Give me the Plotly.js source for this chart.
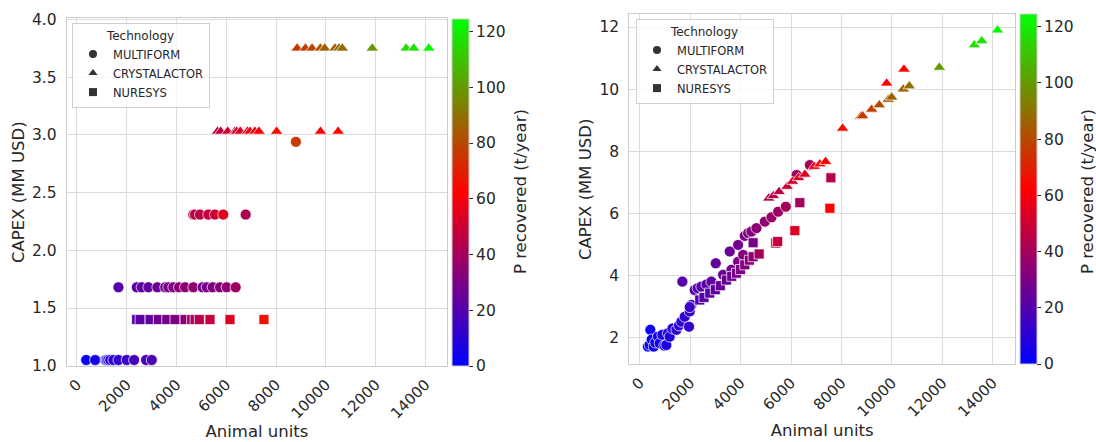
<!DOCTYPE html>
<html>
<head>
<meta charset="utf-8">
<script src="https://cdn.plot.ly/plotly-3.0.1.min.js"></script>
<style>html,body{margin:0;padding:0;background:#fff;}#chart{width:1096px;height:442px;}</style>
</head>
<body>
<div id="chart"></div>
<script>
// ---------- Left panel (discrete CAPEX) ----------
const leftMultiX = [373, 734, 1150, 1203, 1260, 1336, 1468, 1669, 2000, 2298, 2780, 3008,
  1669, 2407, 2600, 2872, 3233, 3550, 3674, 3875, 4100, 4344, 4677, 5050, 5215, 5455, 5748, 6017, 6378,
  4677, 4745, 4945, 5279, 5547, 5880, 6779,
  8797];
const leftMultiY = [1.05, 1.05, 1.05, 1.05, 1.05, 1.05, 1.05, 1.05, 1.05, 1.05, 1.05, 1.05,
  1.68, 1.68, 1.68, 1.68, 1.68, 1.68, 1.68, 1.68, 1.68, 1.68, 1.68, 1.68, 1.68, 1.68, 1.68, 1.68, 1.68,
  2.31, 2.31, 2.31, 2.31, 2.31, 2.31, 2.31,
  2.94];
const leftMultiP = [2, 4, 7, 8, 8, 9, 10, 12, 14, 16, 18, 19,
  21, 21, 23, 24, 26, 28, 29, 31, 33, 34, 36, 27, 29, 31, 33, 35, 39,
  45, 45, 45, 48, 50, 55, 42,
  77];

const leftCrystX = [5650, 5776, 6057, 6350, 6418, 6563, 6850, 6952, 7152, 7313, 8022, 9787, 10493,
  8847, 9180, 9447, 9780, 9954, 10368, 10528, 10662, 11864, 13226, 13533, 14134];
const leftCrystY = [3.03, 3.03, 3.03, 3.03, 3.03, 3.03, 3.03, 3.03, 3.03, 3.03, 3.03, 3.03, 3.03,
  3.75, 3.75, 3.75, 3.75, 3.75, 3.75, 3.75, 3.75, 3.75, 3.75, 3.75, 3.75];
const leftCrystP = [44, 47, 50, 51, 52, 54, 56, 57, 59, 60, 65, 62, 63,
  76, 77, 79, 83, 85, 86, 88, 89, 100, 116, 118, 124];

const leftNuresX = [2400, 2539, 2940, 3273, 3610, 3942, 4344, 4613, 4750, 4918, 5347, 6150, 7514];
const leftNuresY = [1.4, 1.4, 1.4, 1.4, 1.4, 1.4, 1.4, 1.4, 1.4, 1.4, 1.4, 1.4, 1.4];
const leftNuresP = [21, 22, 24, 27, 29, 31, 34, 37, 42, 44, 48, 54, 66];

// ---------- Right panel (continuous CAPEX) ----------
const rightMultiX = [330, 397, 425, 480, 560, 620, 727, 794, 900, 980, 1059, 1120, 1191, 1300, 1456, 1560, 1654, 1786, 1958, 1985, 2052, 1985,
  1693,
  2183, 2300, 2448, 2650, 2845, 3017, 3308, 3638, 3903, 4102,
  3572, 3903, 4168, 4301, 4434, 4631, 4962, 5227, 5490, 5795, 6220, 6748];
const rightMultiY = [1.72, 1.78, 2.26, 1.95, 1.72, 1.85, 2.04, 1.83, 2.1, 1.75, 1.77, 2.15, 2.04, 2.3, 2.26, 2.4, 2.52, 2.68, 2.36, 2.85, 3.06, 2.99,
  3.81,
  3.54, 3.6, 3.65, 3.72, 3.81, 4.40, 4.03, 4.19, 4.45, 4.67,
  4.78, 4.99, 5.28, 5.37, 5.42, 5.53, 5.74, 5.88, 6.06, 6.22, 7.24, 7.56];
const rightMultiP = [2, 2, 3, 3, 3, 4, 5, 5, 6, 6, 7, 7, 8, 9, 10, 10, 11, 12, 12, 13, 14, 14,
  21,
  19, 20, 21, 22, 23, 24, 26, 28, 30, 32,
  26, 28, 30, 31, 32, 34, 35, 37, 38, 40, 38, 40];

const rightCrystX = [5120, 5300, 5529, 5847, 6061, 6300, 6550, 6919, 7145, 7371,
  8046, 8761, 8840, 9197, 9500, 9791, 9857, 9991, 10452, 10479, 10690, 11881, 13270, 13562, 14184];
const rightCrystY = [6.49, 6.57, 6.70, 6.87, 7.03, 7.15, 7.26, 7.51, 7.59, 7.67,
  8.74, 9.12, 9.14, 9.35, 9.49, 10.19, 9.67, 9.74, 10.0, 10.64, 10.10, 10.70, 11.42, 11.55, 11.90];
const rightCrystP = [43, 45, 47, 49, 51, 53, 55, 58, 60, 62,
  65, 77, 76, 78, 80, 62, 83, 85, 87, 63, 89, 100, 116, 118, 124];

const rightNuresX = [2382, 2550, 2779, 3000, 3200, 3440, 3650, 3838, 4000, 4168, 4350, 4498, 4737, 4498, 5398, 5470, 6153, 6351, 7542, 7581];
const rightNuresY = [3.22, 3.3, 3.44, 3.55, 3.68, 3.86, 3.98, 4.08, 4.2, 4.35, 4.5, 4.61, 4.70, 5.06, 5.05, 5.1, 5.45, 6.35, 6.17, 7.15];
const rightNuresP = [20, 21, 22, 23, 25, 26, 27, 29, 30, 31, 33, 34, 40, 29, 47, 48, 54, 40, 62, 44];

const techNames = ['MULTIFORM', 'CRYSTALACTOR', 'NURESYS'];
const techSymbols = ['circle', 'triangle-up', 'square'];
const xTicks = [0, 2000, 4000, 6000, 8000, 10000, 12000, 14000];
const leftYTicks = [1.0, 1.5, 2.0, 2.5, 3.0, 3.5, 4.0];
const rightYTicks = [2, 4, 6, 8, 10, 12];
const cbTicks = [0, 20, 40, 60, 80, 100, 120];
const cbTitle = 'P recovered (t/year)';

const txt = '#262626';
const font = 'DejaVu Sans, sans-serif';
const sizes = {circle: 11, 'triangle-up': 11, square: 10};

function scatterTrace(x, y, p, sym, xa, ya, cax) {
  return {
    type: 'scatter', mode: 'markers', x: x, y: y, xaxis: xa, yaxis: ya,
    showlegend: false, hoverinfo: 'skip',
    marker: {symbol: sym, size: sizes[sym], color: p, coloraxis: cax,
      line: {color: 'rgba(255,255,255,0.9)', width: 0.8}}
  };
}
function legendTrace(i, xa, ya, lg) {
  return {
    type: 'scatter', mode: 'markers', x: [null], y: [null], xaxis: xa, yaxis: ya,
    name: techNames[i], legend: lg, showlegend: true,
    marker: {symbol: techSymbols[i], size: 8, color: '#333333', line: {width: 0}}
  };
}

const data = [
  scatterTrace(leftMultiX, leftMultiY, leftMultiP, 'circle', 'x', 'y', 'coloraxis'),
  scatterTrace(leftNuresX, leftNuresY, leftNuresP, 'square', 'x', 'y', 'coloraxis'),
  scatterTrace(leftCrystX, leftCrystY, leftCrystP, 'triangle-up', 'x', 'y', 'coloraxis'),
  scatterTrace(rightMultiX, rightMultiY, rightMultiP, 'circle', 'x2', 'y2', 'coloraxis2'),
  scatterTrace(rightNuresX, rightNuresY, rightNuresP, 'square', 'x2', 'y2', 'coloraxis2'),
  scatterTrace(rightCrystX, rightCrystY, rightCrystP, 'triangle-up', 'x2', 'y2', 'coloraxis2'),
  legendTrace(0, 'x', 'y', 'legend'), legendTrace(1, 'x', 'y', 'legend'), legendTrace(2, 'x', 'y', 'legend'),
  legendTrace(0, 'x2', 'y2', 'legend2'), legendTrace(1, 'x2', 'y2', 'legend2'), legendTrace(2, 'x2', 'y2', 'legend2')
];

const W = 1096, H = 442;
const cscale = [[0, 'rgb(0,0,255)'], [0.5, 'rgb(255,0,0)'], [1, 'rgb(0,255,0)']];

function xAxis(domain, anchor) {
  return {
    domain: domain, anchor: anchor, range: [-410, 14880],
    tickvals: xTicks, ticktext: xTicks.map(String), tickangle: -45,
    showgrid: true, gridcolor: '#dcdcdc', gridwidth: 1,
    zeroline: false, showline: true, mirror: true, linecolor: '#cccccc', linewidth: 1,
    ticks: 'outside', ticklen: 3, tickcolor: 'rgba(0,0,0,0)',
    tickfont: {family: font, size: 15, color: txt},
    title: {text: 'Animal units', font: {family: font, size: 16.5, color: txt}, standoff: 4}
  };
}
function yAxis(domain, anchor, range, ticks, fmt) {
  return {
    domain: domain, anchor: anchor, range: range,
    tickvals: ticks, ticktext: ticks.map(v => fmt ? v.toFixed(1) : String(v)),
    showgrid: true, gridcolor: '#dcdcdc', gridwidth: 1,
    zeroline: false, showline: true, mirror: true, linecolor: '#cccccc', linewidth: 1,
    ticks: 'outside', ticklen: 6, tickcolor: 'rgba(0,0,0,0)',
    tickfont: {family: font, size: 15.5, color: txt},
    title: {text: 'CAPEX (MM USD)', font: {family: font, size: 16.5, color: txt}, standoff: 3}
  };
}
function colorAx(x, y0px, y1px) {
  return {
    colorscale: cscale, cmin: 0, cmax: 124.5,
    colorbar: {
      x: x / W, xanchor: 'left', xpad: 0, thickness: 17,
      y: (H - y1px) / H, yanchor: 'bottom', ypad: 0, len: (y1px - y0px) / H, lenmode: 'fraction',
      outlinecolor: '#cccccc', outlinewidth: 1,
      tickvals: cbTicks, ticks: 'outside', ticklen: 4, tickcolor: txt, tickwidth: 1,
      tickfont: {family: font, size: 15.5, color: txt}
    }
  };
}
function legendBox(xpx, ypx) {
  return {
    x: xpx / W, y: (H - ypx) / H, xanchor: 'left', yanchor: 'top',
    bgcolor: 'rgba(255,255,255,0.8)', bordercolor: '#d0d0d0', borderwidth: 1,
    font: {family: font, size: 11.5, color: txt}, tracegroupgap: 0, itemwidth: 30,
    title: {text: 'Technology', side: 'top center', font: {family: font, size: 12, color: txt}}
  };
}
function cbLabel(xpx, ypx) {
  return {
    text: cbTitle, xref: 'paper', yref: 'paper', x: xpx / W, y: (H - ypx) / H,
    xanchor: 'center', yanchor: 'middle', textangle: -90, showarrow: false,
    font: {family: font, size: 16.5, color: txt}
  };
}

const layout = {
  width: W, height: H, margin: {l: 0, r: 0, t: 0, b: 0},
  paper_bgcolor: '#ffffff', plot_bgcolor: '#ffffff',
  font: {family: font, color: txt},
  xaxis: xAxis([66.7 / W, 447.3 / W], 'y'),
  yaxis: yAxis([(H - 366) / H, (H - 18.3) / H], 'x', [0.998, 4.01], leftYTicks, true),
  xaxis2: xAxis([629.3 / W, 1015 / W], 'y2'),
  yaxis2: yAxis([(H - 364.3) / H, (H - 14.3) / H], 'x2', [1.15, 12.41], rightYTicks, false),
  coloraxis: colorAx(452, 19, 366),
  coloraxis2: colorAx(1019.5, 14, 364),
  legend: legendBox(72, 23),
  legend2: legendBox(636, 19),
  annotations: [cbLabel(520, 192), cbLabel(1087, 192)]
};

Plotly.newPlot('chart', data, layout, {staticPlot: true, displayModeBar: false});
</script>
</body>
</html>
